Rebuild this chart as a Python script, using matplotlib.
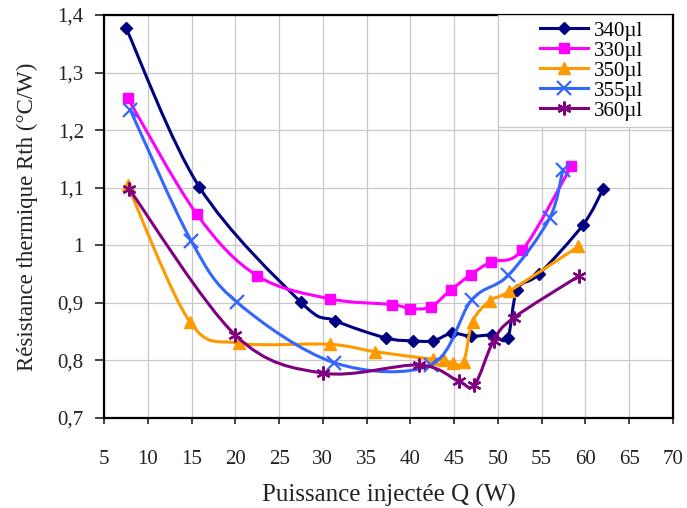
import numpy as np
import matplotlib
matplotlib.use("Agg")
import matplotlib.pyplot as plt
from matplotlib.path import Path
from matplotlib.patches import PathPatch, Rectangle
from matplotlib.lines import Line2D
from matplotlib.ticker import MultipleLocator, FuncFormatter

plt.rcParams['font.family'] = ['Liberation Serif', 'DejaVu Serif']

# data
x340 = [7.5, 15.9, 27.5, 31.4, 37.2, 40.3, 42.6, 44.7, 46.9, 49.3, 51.1, 52.2, 54.7, 59.7, 62.0]
y340 = [1.378, 1.101, 0.901, 0.869, 0.839, 0.834, 0.834, 0.847, 0.842, 0.844, 0.839, 0.923, 0.950, 1.035, 1.097]

x330 = [7.7, 15.6, 22.5, 30.8, 37.9, 40.0, 42.3, 44.6, 46.9, 49.2, 52.8, 58.4]
y330 = [1.256, 1.054, 0.947, 0.907, 0.897, 0.890, 0.893, 0.922, 0.949, 0.971, 0.992, 1.138]

x350 = [7.7, 14.8, 20.4, 30.8, 36.0, 42.6, 43.8, 44.9, 46.1, 47.1, 49.1, 51.3, 59.2]
y350 = [1.104, 0.867, 0.830, 0.828, 0.815, 0.802, 0.800, 0.795, 0.798, 0.867, 0.904, 0.920, 0.998]

x355 = [8.0, 14.95, 20.2, 31.3, 42.3, 47.0, 51.2, 55.9, 57.4]
y355 = [1.235, 1.008, 0.901, 0.796, 0.792, 0.905, 0.948, 1.047, 1.130]

x360 = [7.9, 20.0, 30.0, 41.0, 45.5, 47.3, 49.5, 51.8, 59.3]
y360 = [1.097, 0.844, 0.778, 0.792, 0.764, 0.757, 0.834, 0.874, 0.947]

labels = ["340\u00b5l", "330\u00b5l", "350\u00b5l", "355\u00b5l", "360\u00b5l"]


def smooth_path(x, y):
    # excel-like smoothed line: cubic bezier through the points
    pts = np.column_stack([x, y])
    verts = [pts[0]]
    codes = [Path.MOVETO]
    n = len(pts)
    for i in range(n - 1):
        p0 = pts[i - 1] if i > 0 else pts[i]
        p1 = pts[i]
        p2 = pts[i + 1]
        p3 = pts[i + 2] if i + 2 < n else pts[i + 1]
        verts += [p1 + (p2 - p0) / 6, p2 - (p3 - p1) / 6, p2]
        codes += [Path.CURVE4] * 3
    return Path(verts, codes)


fig = plt.figure(figsize=(6.87, 5.08), dpi=100)
ax = fig.add_axes([0.1514, 0.1772, 0.8282, 0.7933])

series = [
    (x340, y340, "#000080", "D", 6, 1.0),
    (x330, y330, "#ff00ff", "s", 7, 1.0),
    (x350, y350, "#ff9900", "^", 8, 1.0),
    (x355, y355, "#3366ff", "x", 10, 1.6),
    (x360, y360, "#800080", (6, 2, 0), 10, 1.6),
]

handles = []
for k, (xs, ys, col, mk, ms, mew) in enumerate(series):
    ax.add_patch(PathPatch(smooth_path(xs, ys), facecolor="none", edgecolor=col,
                           lw=2.2, zorder=3 + k, capstyle="round", joinstyle="round"))
    ax.plot(xs, ys, linestyle="none", marker=mk, ms=ms, color=col, mec=col,
            mew=mew, zorder=3 + k)
    handles.append(Line2D([], [], color=col, lw=2.2, marker=mk, ms=ms, mew=mew))

ax.set_xlim(5, 70)
ax.set_ylim(0.7, 1.4)
ax.xaxis.set_major_locator(MultipleLocator(5))
ax.yaxis.set_major_locator(MultipleLocator(0.1))
ax.yaxis.set_major_formatter(FuncFormatter(lambda v, p: ("%g" % round(v, 1)).replace(".", ",")))

ax.grid(True, color="#c8c8c8", lw=0.9, zorder=0)
ax.set_axisbelow(True)
for s in ax.spines.values():
    s.set_color("black")
    s.set_linewidth(1.6)
ax.spines["right"].set_zorder(30)

ax.tick_params(axis="both", direction="out", width=1.2, labelsize=15, colors="#222222")
ax.tick_params(axis="x", length=4, pad=19)
ax.tick_params(axis="y", length=6.5, pad=8)

ax.set_xlabel("Puissance injectée Q (W)", fontsize=18, labelpad=11, color="#222222")
ax.set_ylabel("Résistance thermique Rth (°C/W)", fontsize=16.5, labelpad=14, color="#222222")

# legend background box, legend itself drawn without frame
ax.add_patch(Rectangle((0.6924, 0.722), 0.3076, 0.278, transform=ax.transAxes,
                       facecolor="white", edgecolor="#c8c8c8", lw=0.9, zorder=15))
leg = ax.legend(handles, labels, loc="upper left", bbox_to_anchor=(0.766, 0.985),
                borderaxespad=0, borderpad=0, fontsize=15, frameon=False,
                handlelength=2.3, handletextpad=0.3, labelspacing=0.02)
leg.set_zorder(20)

fig.savefig("out.png", dpi=100)
